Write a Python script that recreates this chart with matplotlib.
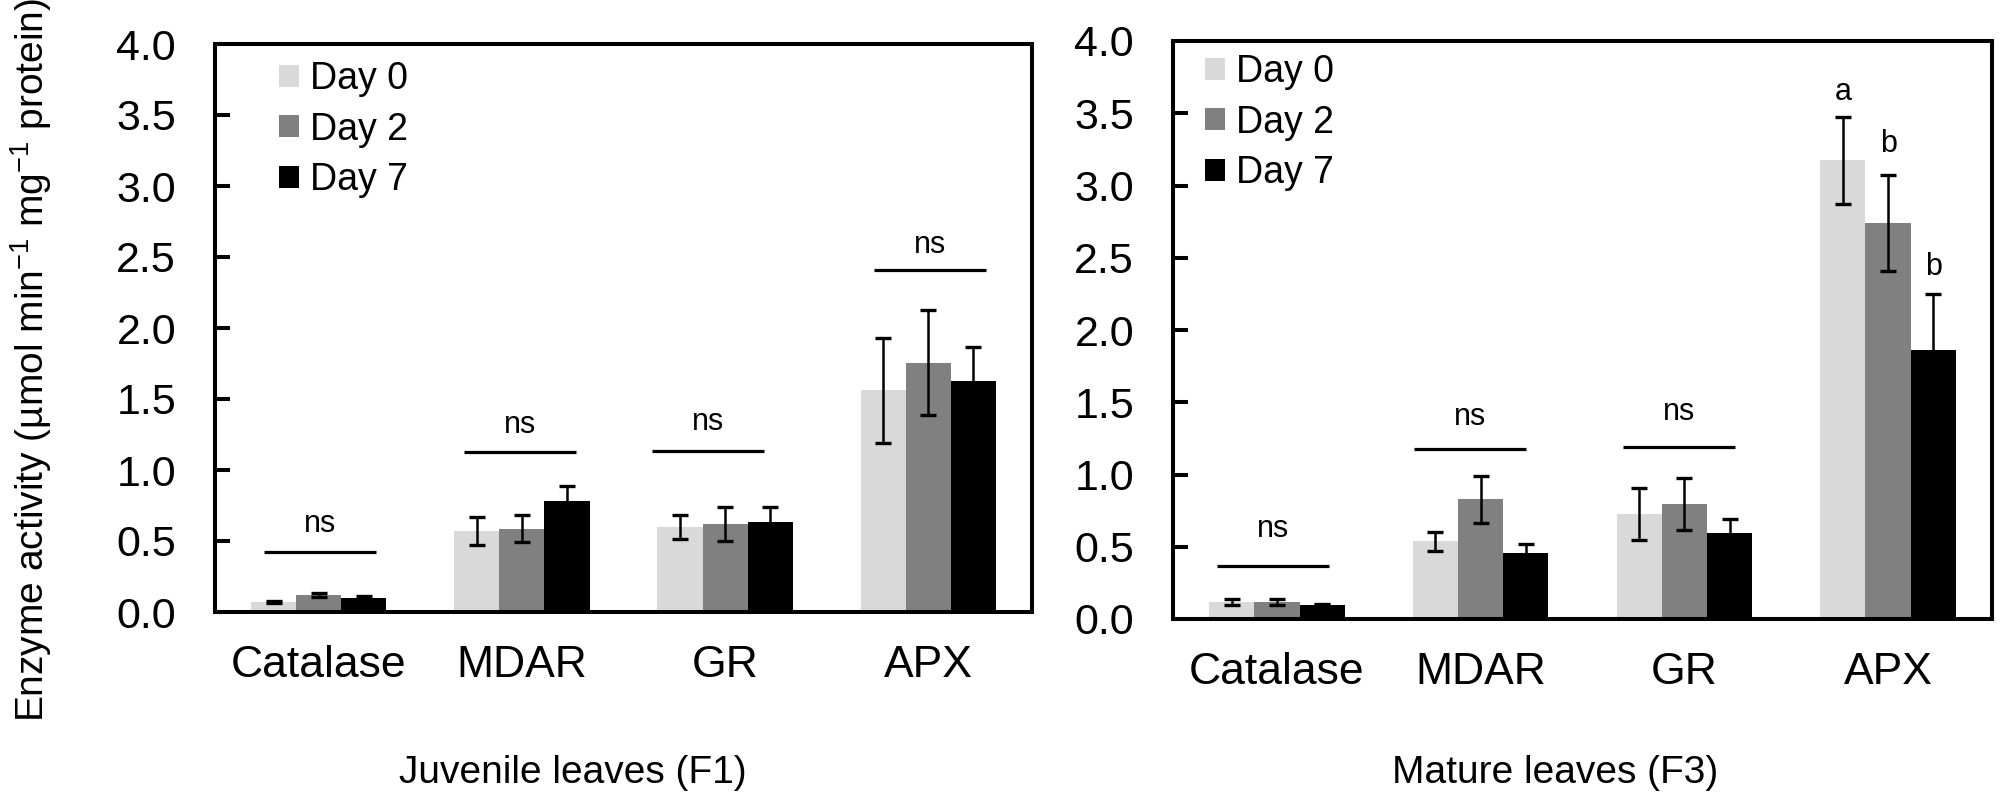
import numpy as np
import matplotlib
matplotlib.use("Agg")
import matplotlib.pyplot as plt

plt.rcParams['font.family'] = ['Liberation Sans', 'DejaVu Sans']
plt.rcParams['mathtext.fontset'] = 'custom'
plt.rcParams['mathtext.rm'] = 'Liberation Sans'
plt.rcParams['mathtext.it'] = 'Liberation Sans'
plt.rcParams['mathtext.default'] = 'regular'

# ---- data ----
categories = ['Catalase', 'MDAR', 'GR', 'APX']
days = ['Day 0', 'Day 2', 'Day 7']
day_colors = ['#d9d9d9', '#808080', '#000000']

# Juvenile leaves (F1)
juv_day0 = [0.07, 0.57, 0.60, 1.56]
juv_day2 = [0.12, 0.585, 0.62, 1.755]
juv_day7 = [0.10, 0.78, 0.635, 1.63]
juv_err0 = [0.01, 0.10, 0.085, 0.37]
juv_err2 = [0.012, 0.095, 0.12, 0.37]
juv_err7 = [0.015, 0.11, 0.105, 0.235]
juv_ns_line = [0.42, 1.13, 1.136, 2.41]
juv_ns_text = [0.565, 1.263, 1.282, 2.526]
juv_ns_shift = [0.007, -0.01, -0.086, 0.01]

# Mature leaves (F3)
mat_day0 = [0.115, 0.537, 0.726, 3.175]
mat_day2 = [0.115, 0.828, 0.795, 2.74]
mat_day7 = [0.10, 0.454, 0.597, 1.86]
mat_err0 = [0.02, 0.068, 0.18, 0.30]
mat_err2 = [0.02, 0.165, 0.18, 0.33]
mat_err7 = [0.005, 0.062, 0.095, 0.39]
mat_ns_line = [0.37, 1.176, 1.19]
mat_ns_text = [0.565, 1.342, 1.38]
mat_ns_shift = [-0.02, -0.05, -0.027]
apx_letters = ['a', 'b', 'b']
apx_letter_y = [3.595, 3.23, 2.38]

xlabels = ['Juvenile leaves (F1)', 'Mature leaves (F3)']
ylabel = r'Enzyme activity (µmol min$^{-1}$ mg$^{-1}$ protein)'

BAR_W = 0.222


def draw_panel(ax, means, errs, ns_line, ns_text, ns_shift):
    x = np.arange(len(categories))
    for j, (vals, err) in enumerate(zip(means, errs)):
        pos = x + (j - 1) * BAR_W
        ax.bar(pos, vals, width=BAR_W, color=day_colors[j], label=days[j],
               edgecolor='none', zorder=2)
        ax.errorbar(pos, vals, yerr=err, fmt='none', ecolor='black',
                    elinewidth=1.8, capsize=6, capthick=2.4, zorder=3)
    # "ns" brackets over each group
    for i, (yl, yt, dx) in enumerate(zip(ns_line, ns_text, ns_shift)):
        c = x[i] + dx
        ax.plot([c - 0.275, c + 0.275], [yl, yl], color='black', lw=2.3,
                solid_capstyle='butt', zorder=3)
        ax.text(c, yt, 'ns', ha='center', va='baseline', fontsize=22)

    ax.set_xlim(-0.51, 3.51)
    ax.set_ylim(0, 4.0)
    ax.set_yticks(np.arange(0, 4.01, 0.5))
    ax.set_yticklabels([f'{v:.1f}' for v in np.arange(0, 4.01, 0.5)])
    ax.set_xticks(x)
    ax.set_xticklabels(categories)
    ax.tick_params(axis='y', direction='in', length=11, width=2.9,
                   labelsize=31, pad=28)
    ax.tick_params(axis='x', length=0, labelsize=32, pad=24)
    for sp in ax.spines.values():
        sp.set_linewidth(2.9)
        sp.set_zorder(4)


fig = plt.figure(figsize=(20.05, 8), dpi=100)
ax1 = fig.add_axes([215 / 2005, 1 - 612 / 800, 817 / 2005, 568 / 800])
ax2 = fig.add_axes([1173 / 2005, 1 - 619 / 800, 819 / 2005, 578 / 800])

draw_panel(ax1, [juv_day0, juv_day2, juv_day7], [juv_err0, juv_err2, juv_err7],
           juv_ns_line, juv_ns_text, juv_ns_shift)
draw_panel(ax2, [mat_day0, mat_day2, mat_day7], [mat_err0, mat_err2, mat_err7],
           mat_ns_line, mat_ns_text, mat_ns_shift)

# significance letters on APX (mature)
for j, (lt, ly) in enumerate(zip(apx_letters, apx_letter_y)):
    ax2.text(3 + (j - 1) * BAR_W, ly, lt, ha='center', va='baseline', fontsize=22)

legend_kw = dict(loc='upper left', frameon=False, fontsize=27, borderpad=0,
                 borderaxespad=0, handlelength=0.53, handleheight=0.53,
                 handletextpad=0.3, labelspacing=0.39,
                 bbox_transform=fig.transFigure)
ax1.legend(bbox_to_anchor=(279 / 2005, 1 - 61 / 800), **legend_kw)
ax2.legend(bbox_to_anchor=(1205 / 2005, 1 - 54 / 800), **legend_kw)

fig.text(573 / 2005, 1 - 783 / 800, xlabels[0], ha='center', va='baseline', fontsize=28)
fig.text(1555 / 2005, 1 - 783 / 800, xlabels[1], ha='center', va='baseline', fontsize=28)
fig.text(31 / 2005, 1 - 360 / 800, ylabel, rotation=90, ha='center', va='center',
         fontsize=28)

fig.savefig('out.png', dpi=100)
